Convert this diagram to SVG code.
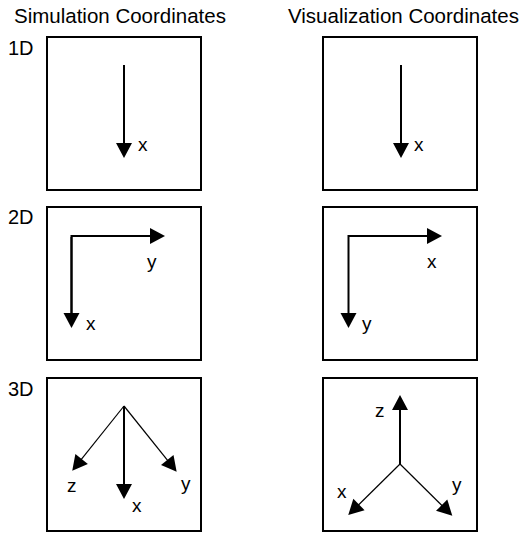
<svg xmlns="http://www.w3.org/2000/svg" width="523" height="533" viewBox="0 0 523 533">
  <style>
    .frame { fill: none; stroke: #000; stroke-width: 2; }
    .axis { fill: none; stroke: #000; stroke-width: 2; marker-end: url(#head); }
    .axis-thin { fill: none; stroke: #000; stroke-width: 1.2; marker-end: url(#head); }
    .title { font-family: "Liberation Sans", Arial, Helvetica, sans-serif; font-size: 20.5px; fill: #000; }
    .row { font-family: "Liberation Sans", Arial, Helvetica, sans-serif; font-size: 20px; fill: #000; }
    .lbl { font-family: "Liberation Sans", Arial, Helvetica, sans-serif; font-size: 19px; fill: #000; }
  </style>
  <defs>
    <marker id="head" markerUnits="userSpaceOnUse" markerWidth="16" markerHeight="16" refX="5" refY="8" orient="auto" overflow="visible">
      <path d="M0,0 L15,8 L0,16 Z" fill="#000"/>
    </marker>
  </defs>

  <!-- column headings -->
  <g id="headings">
    <text class="title" x="14" y="23">Simulation Coordinates</text>
    <text class="title" x="288" y="23">Visualization Coordinates</text>
  </g>

  <!-- row labels -->
  <g id="row-labels">
    <text class="row" x="8" y="55">1D</text>
    <text class="row" x="8" y="224">2D</text>
    <text class="row" x="8" y="396">3D</text>
  </g>

  <!-- panels -->
  <g id="sim-1d">
    <rect class="frame" x="47" y="37" width="154" height="153"/>
    <text class="lbl" x="138" y="151">x</text>
  </g>
  <g id="vis-1d">
    <rect class="frame" x="323" y="37" width="154" height="153"/>
    <text class="lbl" x="414" y="151">x</text>
  </g>
  <g id="sim-2d">
    <rect class="frame" x="47" y="207" width="154" height="153"/>
    <text class="lbl" x="147" y="268">y</text>
    <text class="lbl" x="86" y="330">x</text>
  </g>
  <g id="vis-2d">
    <rect class="frame" x="323" y="207" width="154" height="153"/>
    <text class="lbl" x="427" y="268">x</text>
    <text class="lbl" x="362" y="330">y</text>
  </g>
  <g id="sim-3d">
    <rect class="frame" x="47" y="378" width="154" height="153"/>
    <text class="lbl" x="67" y="492">z</text>
    <text class="lbl" x="132" y="512">x</text>
    <text class="lbl" x="181" y="490">y</text>
  </g>
  <g id="vis-3d">
    <rect class="frame" x="323" y="378" width="154" height="153"/>
    <text class="lbl" x="375" y="417">z</text>
    <text class="lbl" x="337" y="498">x</text>
    <text class="lbl" x="452" y="491">y</text>
  </g>

  <!-- axis arrows -->
  <g id="connectors">
    <!-- 1D -->
    <line class="axis" x1="124" y1="65" x2="124" y2="148"/>
    <line class="axis" x1="401" y1="65" x2="401" y2="148"/>
    <!-- 2D simulation -->
    <polyline class="axis" points="71.5,318 71.5,236 155,236" marker-start="none"/>
    <line class="axis" x1="71.5" y1="237" x2="71.5" y2="318"/>
    <!-- 2D visualization -->
    <polyline class="axis" points="348.5,236 432,236"/>
    <line class="axis" x1="348.5" y1="235" x2="348.5" y2="318"/>
    <!-- 3D simulation -->
    <line class="axis" x1="124" y1="406" x2="124" y2="489"/>
    <line class="axis-thin" x1="124" y1="406" x2="78.5" y2="462.9"/>
    <line class="axis-thin" x1="124" y1="406" x2="170.4" y2="463.9"/>
    <!-- 3D visualization -->
    <line class="axis" x1="400" y1="464" x2="400" y2="405"/>
    <line class="axis-thin" x1="400" y1="464" x2="355.4" y2="508"/>
    <line class="axis-thin" x1="400" y1="464" x2="445.2" y2="508.7"/>
  </g>
</svg>
